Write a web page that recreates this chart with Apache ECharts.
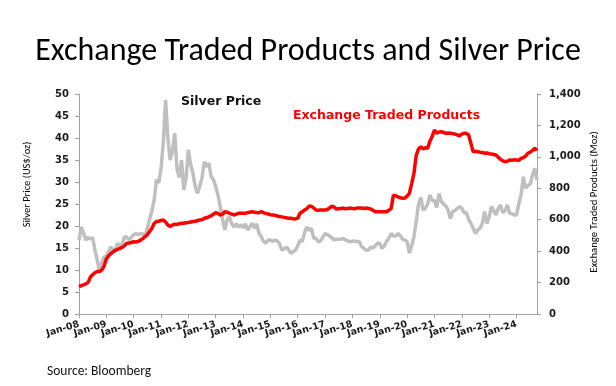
<!DOCTYPE html>
<html>
<head>
<meta charset="utf-8">
<script src="https://cdn.jsdelivr.net/npm/echarts@6/dist/echarts.min.js"></script>
<style>
html,body{margin:0;padding:0;background:#fff;}
#c{width:616px;height:386px;}
</style>
</head>
<body>
<div id="c"></div>
<script>
// Monthly categories Jan-08 .. Oct-24
const months = ['Jan','Feb','Mar','Apr','May','Jun','Jul','Aug','Sep','Oct','Nov','Dec'];
const categories = [];
for (let y = 8; y <= 24; y++) {
  for (let m = 0; m < 12; m++) {
    if (y === 24 && m > 9) break;
    categories.push(months[m] + '-' + String(y).padStart(2, '0'));
  }
}

// Silver price, US$/oz (left axis)
const silverPrice = [
  16.8, 19.8, 18.4, 16.8, 17.4, 17.0, 17.4, 14.5, 12.3, 9.6, 11.5, 13.0,
  13.0, 14.2, 15.3, 14.2, 14.8, 16.1, 15.0, 16.0, 17.6, 17.4, 16.9, 17.5,
  18.0, 18.3, 18.0, 18.3, 18.2, 17.9, 19.5, 21.5, 23.5, 26.0, 30.5, 29.8,
  33.0, 39.0, 48.6, 40.0, 35.0, 37.0, 41.1, 33.0, 31.0, 35.0, 28.2, 31.0,
  37.3, 34.0, 32.0, 29.0, 27.4, 29.0, 31.0, 34.6, 33.5, 34.3, 31.2, 30.5,
  29.0, 27.0, 24.4, 21.5, 19.1, 21.4, 22.1, 20.5, 19.8, 20.5, 19.8, 20.3,
  19.6, 20.5, 19.1, 19.8, 20.6, 19.5, 20.5, 18.3, 17.6, 16.5, 16.1, 16.8,
  16.8, 16.5, 16.8, 16.6, 16.0, 14.5, 14.8, 15.2, 14.6, 13.8, 14.2, 14.5,
  15.5, 16.8, 16.5, 18.5, 19.8, 19.0, 19.5, 17.2, 17.2, 16.4, 16.6, 17.5,
  18.3, 18.0, 17.7, 17.3, 16.8, 17.0, 17.0, 17.0, 17.2, 16.8, 16.6, 16.4,
  16.5, 16.6, 16.4, 16.5, 15.3, 14.9, 14.5, 14.5, 15.2, 15.0, 15.5, 16.1,
  16.1, 14.9, 15.5, 16.5, 17.2, 18.3, 17.7, 17.7, 18.3, 17.8, 17.0, 16.8,
  16.5, 13.8, 15.5, 17.6, 21.0, 25.0, 26.5, 23.6, 24.0, 25.0, 27.0, 25.8,
  25.8, 24.2, 27.4, 25.6, 25.0, 24.5, 23.6, 21.7, 23.3, 23.5, 24.0, 24.4,
  24.0, 23.0, 23.0, 21.5, 20.6, 19.5, 18.3, 19.1, 19.5, 20.6, 23.3, 20.6,
  22.0, 24.4, 23.5, 22.5, 24.0, 24.8, 23.0, 23.5, 24.8, 22.9, 22.8, 22.5,
  22.5, 25.0, 27.0, 31.2, 28.6, 29.2, 29.5, 31.5, 33.1, 30.5
];

// Exchange traded products holdings, Moz (right axis)
const etpHoldings = [
  174, 180, 186, 192, 200, 235, 250, 262, 270, 270, 280, 305,
  350, 370, 385, 396, 405, 412, 418, 425, 435, 450, 452, 455,
  460, 458, 462, 470, 480, 492, 505, 525, 545, 577, 588, 590,
  595, 598, 585, 566, 556, 566, 572, 570, 575, 577, 578, 580,
  582, 585, 588, 590, 595, 598, 600, 609, 612, 619, 625, 635,
  645, 640, 630, 635, 651, 648, 641, 636, 630, 635, 641, 641,
  641, 641, 645, 648, 651, 648, 645, 645, 651, 645, 640, 636,
  632, 630, 628, 624, 620, 618, 615, 612, 610, 609, 606, 605,
  610, 641, 650, 662, 670, 687, 685, 675, 662, 660, 662, 662,
  662, 665, 675, 687, 680, 668, 670, 672, 674, 670, 672, 674,
  672, 670, 674, 674, 674, 672, 674, 672, 668, 660, 651, 651,
  650, 650, 651, 651, 660, 672, 757, 752, 746, 740, 736, 738,
  750, 768, 830, 895, 1010, 1050, 1065, 1050, 1058, 1054, 1100, 1130,
  1171, 1150, 1158, 1160, 1155, 1150, 1152, 1150, 1148, 1145, 1140, 1133,
  1145, 1150, 1150, 1139, 1086, 1033, 1036, 1033, 1030, 1028, 1023, 1025,
  1020, 1018, 1015, 1012, 998, 984, 975, 969, 972, 980, 978, 982,
  980, 978, 990, 995, 1005, 1023, 1030, 1040, 1054, 1040
];

const leftTicks = {min: 0, max: 50, interval: 5};
const rightTicks = {min: 0, max: 1400, interval: 200};

const chart = echarts.init(document.getElementById('c'), null, {renderer: 'canvas'});
const axisFont = {fontFamily: 'DejaVu Sans', fontWeight: 'bold', fontSize: 10, color: '#1a1a1a'};
const calibriLike = 'Carlito, Lato, sans-serif';

chart.setOption({
  animation: false,
  backgroundColor: '#fff',
  title: [{
    text: 'Exchange Traded Products and Silver Price',
    left: 'center', top: 36, padding: 0,
    textStyle: {fontFamily: calibriLike, fontWeight: 'normal', fontSize: 32, color: '#000'}
  }, {
    text: 'Source: Bloomberg',
    left: 47, top: 365, padding: 0,
    textStyle: {fontFamily: calibriLike, fontWeight: 'normal', fontSize: 13.5, color: '#111'}
  }],
  graphic: [{
    type: 'text', left: 181, top: 95,
    style: {text: 'Silver Price', fill: '#111', font: 'bold 12.5px "DejaVu Sans"'}
  }, {
    type: 'text', left: 293, top: 109,
    style: {text: 'Exchange Traded Products', fill: '#ff0000', font: 'bold 12.5px "DejaVu Sans"'}
  }, {
    type: 'text', x: 27.5, y: 184.5, rotation: Math.PI / 2,
    style: {text: 'Silver Price (US$/oz)', fill: '#000', font: '10.5px ' + calibriLike,
      align: 'center', verticalAlign: 'middle'}
  }, {
    type: 'text', x: 594, y: 202, rotation: Math.PI / 2,
    style: {text: 'Exchange Traded Products (Moz)', fill: '#000', font: '10.7px ' + calibriLike,
      align: 'center', verticalAlign: 'middle'}
  }],
  grid: {left: 79, right: 79, top: 94, bottom: 72, containLabel: false},
  xAxis: {
    type: 'category',
    data: categories,
    boundaryGap: false,
    axisLine: {lineStyle: {color: '#a0a0a0', width: 1}},
    axisTick: {show: true, interval: (i) => i % 12 === 0, length: 4, lineStyle: {color: '#a0a0a0'}},
    axisLabel: Object.assign({}, axisFont, {
      fontSize: 9.5, rotate: 17, margin: 10,
      interval: 0,
      hideOverlap: false,
      formatter: (value, index) => (index % 12 === 0 ? value : '')
    }),
    splitLine: {show: false}
  },
  yAxis: [{
    type: 'value',
    min: leftTicks.min, max: leftTicks.max, interval: leftTicks.interval,
    axisLine: {show: true, lineStyle: {color: '#a0a0a0'}},
    axisTick: {show: true, length: 4, lineStyle: {color: '#a0a0a0'}},
    axisLabel: Object.assign({}, axisFont, {margin: 10}),
    splitLine: {show: false}
  }, {
    type: 'value',
    position: 'right',
    min: rightTicks.min, max: rightTicks.max, interval: rightTicks.interval,
    axisLine: {show: true, lineStyle: {color: '#a0a0a0'}},
    axisTick: {show: true, length: 4, lineStyle: {color: '#a0a0a0'}},
    axisLabel: Object.assign({}, axisFont, {
      margin: 12,
      formatter: (v) => v.toLocaleString('en-US')
    }),
    splitLine: {show: false}
  }],
  series: [{
    name: 'Silver Price',
    type: 'line',
    yAxisIndex: 0,
    data: silverPrice,
    showSymbol: false,
    lineStyle: {color: '#bfbfbf', width: 3.5},
    itemStyle: {color: '#bfbfbf'},
    z: 2
  }, {
    name: 'Exchange Traded Products',
    type: 'line',
    yAxisIndex: 1,
    data: etpHoldings,
    showSymbol: false,
    lineStyle: {color: '#ff0000', width: 3.5},
    itemStyle: {color: '#ff0000'},
    z: 3
  }]
});
</script>
</body>
</html>
